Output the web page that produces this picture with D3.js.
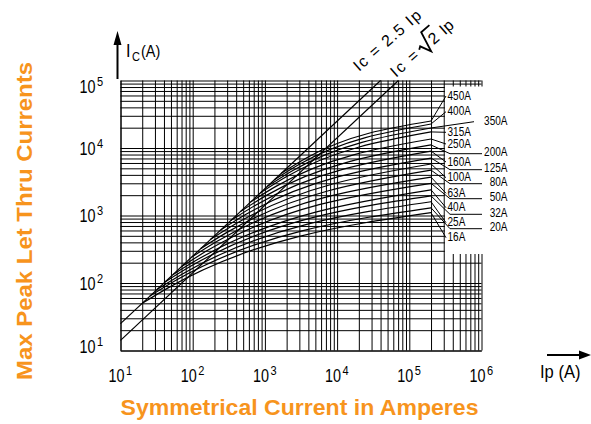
<!DOCTYPE html>
<html>
<head>
<meta charset="utf-8">
<script src="https://cdn.jsdelivr.net/npm/d3@7"></script>
<style>
  body { margin: 0; background: #fff; }
  svg { display: block; }
  text { font-family: "Liberation Sans", Arial, Helvetica, sans-serif; fill: #000; }
</style>
</head>
<body>
<svg id="chart" width="591" height="424"></svg>
<script>
// Peak let-through current of current-limiting fuses
// Ip = prospective symmetrical current (A), Ic = peak let-through current (A)

const ratings = ["16A", "20A", "25A", "32A", "40A", "50A", "63A", "80A", "100A",
                 "125A", "160A", "200A", "250A", "315A", "350A", "400A", "450A"];

// [Ip, Ic] points along each fuse curve
const curve16A  = [[20, 50],     [45, 84],     [2e5, 1100]];
const curve20A  = [[25.5, 64],   [57, 108],    [2e5, 1300]];
const curve25A  = [[32, 80],     [72, 136],    [2e5, 1600]];
const curve32A  = [[41, 103],    [92, 175],    [2e5, 1950]];
const curve40A  = [[53, 133],    [120, 226],   [2e5, 2400]];
const curve50A  = [[71, 176],    [159, 302],   [2e5, 3000]];
const curve63A  = [[97, 242],    [218, 415],   [2e5, 3700]];
const curve80A  = [[129, 323],   [290, 553],   [2e5, 4700]];
const curve100A = [[177, 444],   [400, 760],   [2e5, 5800]];
const curve125A = [[244, 610],   [548, 1040],  [2e5, 7100]];
const curve160A = [[335, 840],   [753, 1435],  [2e5, 9000]];
const curve200A = [[460, 1150],  [1035, 1970], [2e5, 11100]];
const curve250A = [[632, 1580],  [1420, 2700], [2e5, 13600]];
const curve315A = [[867, 2170],  [1950, 3720], [2e5, 17300]];
const curve350A = [[1084, 2710], [2440, 4650], [2e5, 19800]];
const curve400A = [[1355, 3390], [3050, 5790], [2e5, 22700]];
const curve450A = [[1690, 4230], [3800, 7190], [2e5, 25100]];

const curves = [curve16A, curve20A, curve25A, curve32A, curve40A, curve50A, curve63A,
                curve80A, curve100A, curve125A, curve160A, curve200A, curve250A,
                curve315A, curve350A, curve400A, curve450A];

// Reference lines Ic = k * Ip
const diagonalFactors = [2.5, Math.SQRT2];

// Axis decades (labels are 10^exponent)
const xDecades = [1e1, 1e2, 1e3, 1e4, 1e5, 1e6];
const yDecades = [1e1, 1e2, 1e3, 1e4, 1e5];
const xExponents = ["1", "2", "3", "4", "5", "6"];
const yExponents = ["1", "2", "3", "4", "5"];

// ---------------------------------------------------------------
const svg = d3.select("#chart");
const plotL = 120.5, plotR = 481.5, plotT = 80.5, plotB = 350.5;

const x = d3.scaleLog().domain([1e1, 1e6]).range([plotL, plotR]);
const y = d3.scaleLog().domain([1e1, 1e5]).range([plotB, plotT]);

// condensed look: compress each text's natural width
function squeeze(sel, f) {
  sel.each(function () {
    const w = this.getComputedTextLength();
    d3.select(this).attr("textLength", w * f).attr("lengthAdjust", "spacingAndGlyphs");
  });
  return sel;
}

// condensed text drawn through a horizontal scale
function narrowText(g, px, py, sx, txt, size, anchor) {
  return g.append("g").attr("transform", `translate(${px},${py}) scale(${sx},1)`)
    .append("text").attr("text-anchor", anchor || "start")
    .style("font-size", size + "px").text(txt);
}

// 1-2-...-9 log grid values
function logGrid(decades) {
  const v = [];
  for (let i = 0; i < decades.length - 1; i++)
    for (let k = 1; k < 10; k++) v.push(k * decades[i]);
  v.push(decades[decades.length - 1]);
  return v;
}

// vertical grid lines
svg.append("g")
  .attr("transform", `translate(0,${plotB})`)
  .call(d3.axisBottom(x).tickValues(logGrid(xDecades)).tickSize(-(plotB - plotT)).tickSizeOuter(0).tickFormat(""))
  .call(g => g.selectAll("line").attr("stroke", "#000").attr("stroke-width", 1))
  .call(g => g.select(".domain").attr("stroke", "#000"));

// horizontal grid lines
svg.append("g")
  .attr("transform", `translate(${plotL},0)`)
  .call(d3.axisLeft(y).tickValues(logGrid(yDecades)).tickSize(-(plotR - plotL)).tickSizeOuter(0).tickFormat(""))
  .call(g => g.selectAll("line").attr("stroke", "#000").attr("stroke-width", 1))
  .call(g => g.select(".domain").attr("stroke", "#000"));

// clear panel behind the rating labels
svg.append("rect")
  .attr("x", x(3e5) + 1.2).attr("y", 86.5)
  .attr("width", 50).attr("height", 254 - 86.5)
  .attr("fill", "#fff");

// reference diagonals
diagonalFactors.forEach(f => {
  svg.append("line")
    .attr("x1", x(10)).attr("y1", y(10 * f))
    .attr("x2", x(1e5 / f)).attr("y2", y(1e5))
    .attr("stroke", "#000").attr("stroke-width", 1.2);
});

// fuse curves
const line = d3.line().x(d => x(d[0])).y(d => y(d[1])).curve(d3.curveMonotoneX);
svg.append("g").selectAll("path").data(curves).join("path")
  .attr("d", line)
  .attr("fill", "none").attr("stroke", "#000").attr("stroke-width", 1.2);

// rating labels and leader lines
const labelLayout = {
  "450A": { side: "L", ly: 95 },   "400A": { side: "L", ly: 110.7 },
  "315A": { side: "L", ly: 131.3 }, "250A": { side: "L", ly: 143 },
  "160A": { side: "L", ly: 161 },  "100A": { side: "L", ly: 176.7 },
  "63A":  { side: "L", ly: 192.3 }, "40A": { side: "L", ly: 206.7 },
  "25A":  { side: "L", ly: 221.7 }, "16A": { side: "L", ly: 236.7 },
  "350A": { side: "S", ly: 120.7 }, "200A": { side: "R", ly: 151.7 },
  "125A": { side: "R", ly: 167.7 }, "80A": { side: "R", ly: 181.7 },
  "50A":  { side: "R", ly: 196.7 }, "32A": { side: "R", ly: 212.3 },
  "20A":  { side: "R", ly: 226.7 }
};

const leaders = svg.append("g").attr("stroke", "#000").attr("stroke-width", 1).attr("fill", "none");
const labels = svg.append("g").style("font-size", "13px");

ratings.forEach((r, i) => {
  const c = curves[i];
  const end = c[c.length - 1];
  const ex = x(end[0]), ey = y(end[1]);
  const L = labelLayout[r];
  let t;
  if (L.side === "L") {
    leaders.append("path").attr("d", `M${ex},${ey}L${446},${L.ly + 1}`);
    t = labels.append("text").attr("x", 447.5).attr("y", L.ly + 4.7).text(r);
  } else if (L.side === "S") {
    leaders.append("path").attr("d", `M${ex},${ey}L${474},${L.ly + 1}`);
    t = labels.append("text").attr("x", 507.5).attr("y", L.ly + 4.7).attr("text-anchor", "end").text(r);
  } else {
    const hy = L.ly + 2;
    leaders.append("path").attr("d", `M${ex},${ey}L${450},${hy}L${482},${hy}`);
    t = labels.append("text").attr("x", 507.5).attr("y", L.ly + 4.7).attr("text-anchor", "end").text(r);
  }
  squeeze(t, 0.77);
});

// axis tick labels (powers of ten): base and exponent as separate texts
function powerLabel(g, px, py, exp) {
  narrowText(g, px, py, 0.8, "10", 18, "end");
  narrowText(g, px + 1.5, py - 7, 0.85, exp, 13, "start");
}
xDecades.forEach((v, i) => powerLabel(svg, x(v) + 4, 382, xExponents[i]));
yDecades.forEach((v, i) => {
  const cy = Math.max(86, Math.min(346, y(v)));
  powerLabel(svg, 95.5, cy + 6.5, yExponents[i]);
});

// axis arrows and unit labels
svg.append("line").attr("x1", 117.5).attr("y1", 79).attr("x2", 117.5).attr("y2", 42)
  .attr("stroke", "#000").attr("stroke-width", 2);
svg.append("path").attr("d", "M117.5,31L113.5,45L121.5,45Z").attr("fill", "#000");
narrowText(svg, 126, 57, 0.9, "I", 18);
narrowText(svg, 132, 61, 0.85, "C", 13);
narrowText(svg, 141, 57, 0.85, "(A)", 17);

svg.append("line").attr("x1", 547).attr("y1", 355).attr("x2", 582).attr("y2", 355)
  .attr("stroke", "#000").attr("stroke-width", 2);
svg.append("path").attr("d", "M591,355L579,350.5L579,359.5Z").attr("fill", "#000");
squeeze(svg.append("text").attr("x", 540).attr("y", 378).style("font-size", "18px").text("Ip (A)"), 0.92);

// diagonal annotations
const d1 = svg.append("g").attr("transform", "translate(359,72) rotate(-41)");
d1.append("text").attr("x", 0).attr("y", 0).style("font-size", "16px")
  .attr("textLength", 84).attr("lengthAdjust", "spacing")
  .text("Ic = 2.5 Ip");

const d2 = svg.append("g").attr("transform", "translate(396,78) rotate(-41)");
d2.append("text").attr("x", 0).attr("y", 0).style("font-size", "16px")
  .attr("textLength", 32).attr("lengthAdjust", "spacing").text("Ic =");
const ra = 36;
const t2 = d2.append("text").attr("x", ra + 14).attr("y", 0).style("font-size", "16px").text("2");
const w2 = t2.node().getComputedTextLength();
d2.append("path")
  .attr("d", `M${ra},-6L${ra + 3},-8L${ra + 8},3L${ra + 13},-18L${ra + 14 + w2 + 1},-18`)
  .attr("fill", "none").attr("stroke", "#000").attr("stroke-width", 1.8);
d2.append("text").attr("x", ra + 14 + w2 + 6).attr("y", 0).style("font-size", "16px").text("Ip");

// titles
const orange = "#f7941d";
svg.append("text").attr("x", 120.5).attr("y", 415)
  .attr("textLength", 358).attr("lengthAdjust", "spacingAndGlyphs")
  .style("font-size", "22px").style("font-weight", "bold").style("fill", orange)
  .text("Symmetrical Current in Amperes");
svg.append("text").attr("transform", "translate(32,380) rotate(-90)")
  .attr("textLength", 318).attr("lengthAdjust", "spacingAndGlyphs")
  .style("font-size", "22px").style("font-weight", "bold").style("fill", orange)
  .text("Max Peak Let Thru Currents");
</script>
</body>
</html>
